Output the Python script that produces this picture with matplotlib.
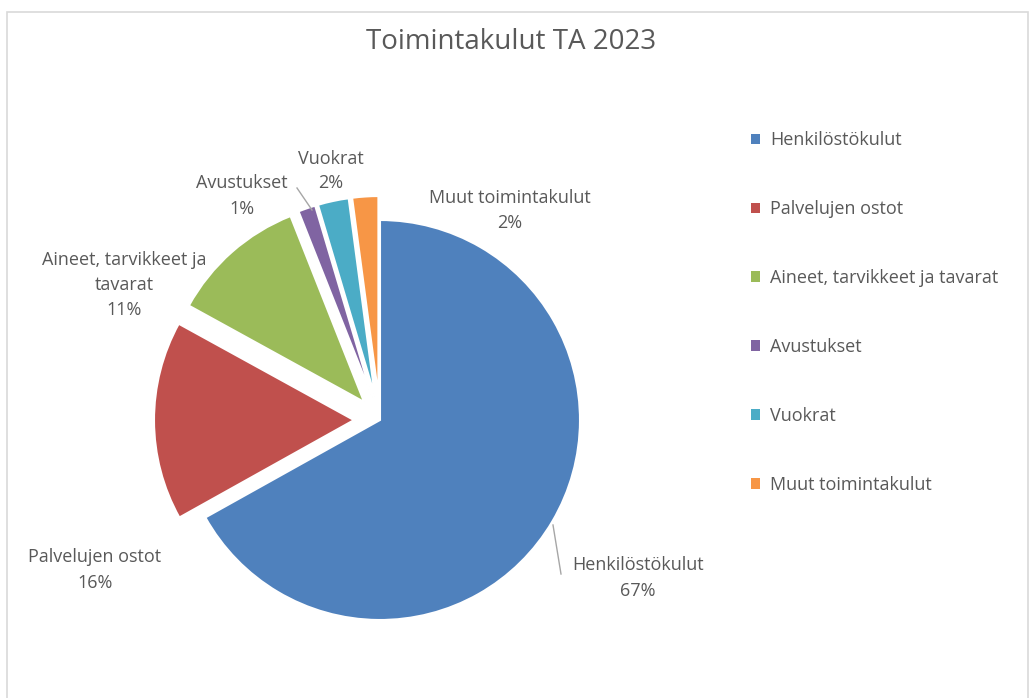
import matplotlib
matplotlib.use("Agg")
import matplotlib.pyplot as plt
from matplotlib.patches import Rectangle
from matplotlib.lines import Line2D

title = "Toimintakulut TA 2023"
categories = ["Henkilöstökulut", "Palvelujen ostot", "Aineet, tarvikkeet ja tavarat",
              "Avustukset", "Vuokrat", "Muut toimintakulut"]
values = [66.9, 16.1, 11.0, 1.4, 2.5, 2.1]
pct_labels = ["67%", "16%", "11%", "1%", "2%", "2%"]
label_names = ["Henkilöstökulut", "Palvelujen ostot", "Aineet, tarvikkeet ja\ntavarat",
               "Avustukset", "Vuokrat", "Muut toimintakulut"]
colors = ["#4F81BD", "#C0504D", "#9BBB59", "#8064A2", "#4BACC6", "#F79646"]
explode = [0.0, 0.13, 0.12, 0.12, 0.12, 0.12]

# label positions (data coords, radius = 1)
label_pos = [(1.29, -0.79), (-1.425, -0.75), (-1.28, 0.675),
             (-0.69, 1.12), (-0.245, 1.245), (0.65, 1.05)]
leaders = {0: ((0.865, -0.525), (0.905, -0.77)), 3: ((-0.415, 1.16), (-0.34, 1.05))}

FONT = "Open Sans"
TXT = "#595959"

W, H = 1030, 698
fig = plt.figure(figsize=(W / 100, H / 100), dpi=100)
fig.patch.set_facecolor("white")

# chart border
fig.add_artist(Rectangle((7 / W, -0.01), (1028 - 7) / W, (H - 12) / H + 0.01,
                         transform=fig.transFigure, fill=False,
                         edgecolor="#D9D9D9", linewidth=1.2))

cx, cy, R = 380, 420, 200
ax_w = 740
ax = fig.add_axes([0, 0, ax_w / W, 1])

wedges, _ = ax.pie(values, colors=colors, explode=explode, startangle=90,
                   counterclock=False, radius=1.0,
                   wedgeprops=dict(edgecolor="white", linewidth=1.5))
ax.set_xlim((0 - cx) / R, (ax_w - cx) / R)
ax.set_ylim((cy - H) / R, (cy - 0) / R)
ax.set_aspect("equal", adjustable="box")
ax.axis("off")

for i, (name, pct) in enumerate(zip(label_names, pct_labels)):
    x, y = label_pos[i]
    ax.text(x, y, f"{name}\n{pct}", ha="center", va="center", fontsize=13,
            color=TXT, family=FONT, linespacing=1.5)

for i, (p0, p1) in leaders.items():
    ax.add_line(Line2D([p0[0], p1[0]], [p0[1], p1[1]], color="#A6A6A6", linewidth=1.0))

fig.text(511 / W, 1 - 42 / H, title, ha="center", va="center", fontsize=20,
         color=TXT, family=FONT)

leg = fig.legend(wedges, categories, loc="center left",
                 bbox_to_anchor=(751 / W, 1 - 312.5 / H), frameon=False,
                 labelspacing=2.82, handlelength=0.5, handleheight=0.5,
                 handletextpad=0.55, borderpad=0, borderaxespad=0,
                 prop={"family": FONT, "size": 13})
for t in leg.get_texts():
    t.set_color(TXT)
for h in leg.legend_handles:
    h.set_edgecolor("none")

fig.savefig("out.png", dpi=100, facecolor="white")
